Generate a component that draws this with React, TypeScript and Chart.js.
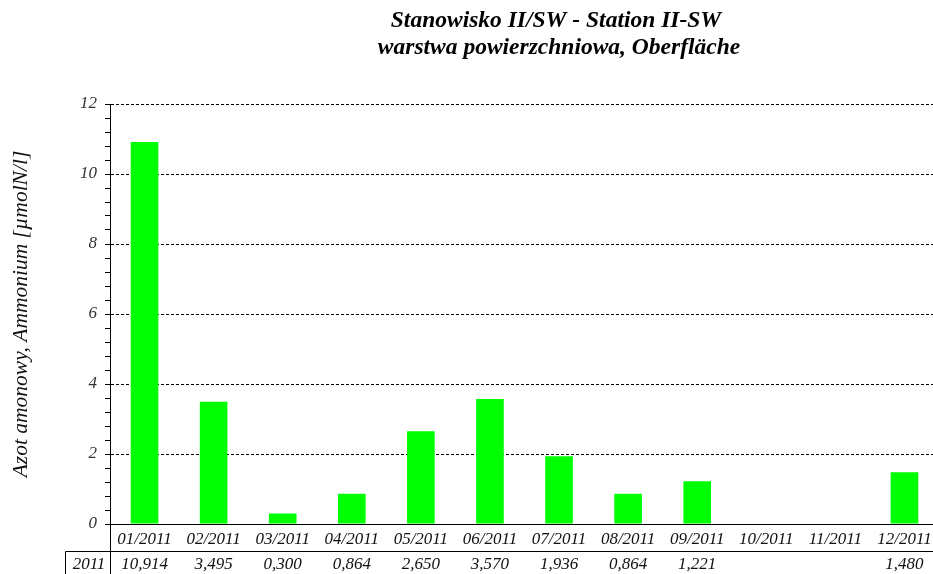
import React, { useEffect, useRef } from "react";
import { Chart, registerables } from "chart.js";

Chart.register(...registerables);

const categories = ["01/2011", "02/2011", "03/2011", "04/2011", "05/2011", "06/2011", "07/2011", "08/2011", "09/2011", "10/2011", "11/2011", "12/2011"];
const values: (number | null)[] = [10.914, 3.495, 0.3, 0.864, 2.65, 3.57, 1.936, 0.864, 1.221, null, null, 1.48];
const tableRowLabel = "2011";
const titleLines = ["Stanowisko II/SW - Station II-SW", "warstwa powierzchniowa, Oberfläche"];
const yAxisTitle = "Azot amonowy, Ammonium [µmolN/l]";
const yMin = 0;
const yMax = 12;
const yMajorStep = 2;
const yMinorStep = 0.4;

const SERIF = "'Liberation Serif', 'Times New Roman', serif";

const isMajor = (v: number) => Math.abs(v / yMajorStep - Math.round(v / yMajorStep)) < 1e-6;

export default function App() {
  const ref = useRef<HTMLCanvasElement | null>(null);

  useEffect(() => {
    if (!ref.current) return;

    const decorPlugin = {
      id: "decor",
      afterDraw(chart: any) {
        const { ctx, chartArea, scales } = chart;
        const x = scales.x;
        const W = chart.width;
        const H = chart.height;
        const tableTop = chartArea.bottom + 27.5;
        const tableLeft = 65.5;
        ctx.save();
        ctx.strokeStyle = "#000";
        ctx.lineWidth = 1;
        ctx.beginPath();
        ctx.moveTo(tableLeft, tableTop);
        ctx.lineTo(W, tableTop);
        const ax = Math.round(chartArea.left) + 0.5;
        ctx.moveTo(ax, chartArea.bottom);
        ctx.lineTo(ax, H);
        ctx.moveTo(tableLeft, tableTop);
        ctx.lineTo(tableLeft, H);
        ctx.stroke();

        ctx.fillStyle = "#111";
        ctx.font = `italic 17px ${SERIF}`;
        ctx.textAlign = "center";
        ctx.textBaseline = "middle";
        const rowY = tableTop + 13;
        ctx.fillText(tableRowLabel, (tableLeft + ax) / 2 + 1, rowY);
        values.forEach((v, i) => {
          if (v === null) return;
          const px = x.getPixelForValue(i);
          ctx.fillText(v.toFixed(3).replace(".", ","), px, rowY);
        });

        ctx.fillStyle = "#000";
        ctx.font = `italic bold 23.5px ${SERIF}`;
        ctx.fillText(titleLines[0], 556, 21);
        ctx.fillText(titleLines[1], 559, 48);
        ctx.restore();
      },
    };

    const chart = new Chart(ref.current, {
      type: "bar",
      data: {
        labels: categories,
        datasets: [
          {
            data: values,
            backgroundColor: "#00ff00",
            borderWidth: 0,
            barPercentage: 0.4,
            categoryPercentage: 1,
          },
        ],
      },
      plugins: [decorPlugin],
      options: {
        animation: false,
        responsive: false,
        maintainAspectRatio: false,
        layout: { padding: { top: 104, right: 6, left: 0, bottom: 0 } },
        plugins: {
          legend: { display: false },
          title: { display: false },
          tooltip: { enabled: false },
        },
        scales: {
          x: {
            type: "category",
            grid: { display: false, drawTicks: false },
            border: { display: true, color: "#000", width: 1 },
            ticks: {
              color: "#111",
              font: { family: SERIF, size: 17, style: "italic" },
              padding: 5,
              maxRotation: 0,
              autoSkip: false,
            },
            afterFit(scale: any) {
              scale.height = 50;
            },
          },
          y: {
            type: "linear",
            min: yMin,
            max: yMax,
            grid: {
              drawTicks: true,
              tickLength: 5,
              color: (c: any) => (c.tick && isMajor(c.tick.value) ? "#000" : "rgba(0,0,0,0)"),
              tickColor: "#000",
              lineWidth: 1,
            },
            border: { display: true, color: "#000", width: 1, dash: [3, 2] },
            ticks: {
              stepSize: yMinorStep,
              autoSkip: false,
              color: "#333",
              padding: 8,
              font: { family: SERIF, size: 17, style: "italic" },
              callback: (v: any) => (isMajor(Number(v)) ? String(Math.round(Number(v))) : ""),
            },
            title: {
              display: true,
              text: yAxisTitle,
              color: "#111",
              font: { family: SERIF, size: 21.5, style: "italic" },
              padding: { top: 8, bottom: 0 },
            },
            afterFit(scale: any) {
              scale.width = 110;
            },
          },
        },
      },
    });

    return () => chart.destroy();
  }, []);

  return (
    <div style={{ position: "fixed", left: 0, top: 0, width: 933, height: 574, overflow: "hidden", background: "#fff" }}>
      <canvas ref={ref} width={945} height={574} style={{ width: 945, height: 574, display: "block" }} />
    </div>
  );
}
